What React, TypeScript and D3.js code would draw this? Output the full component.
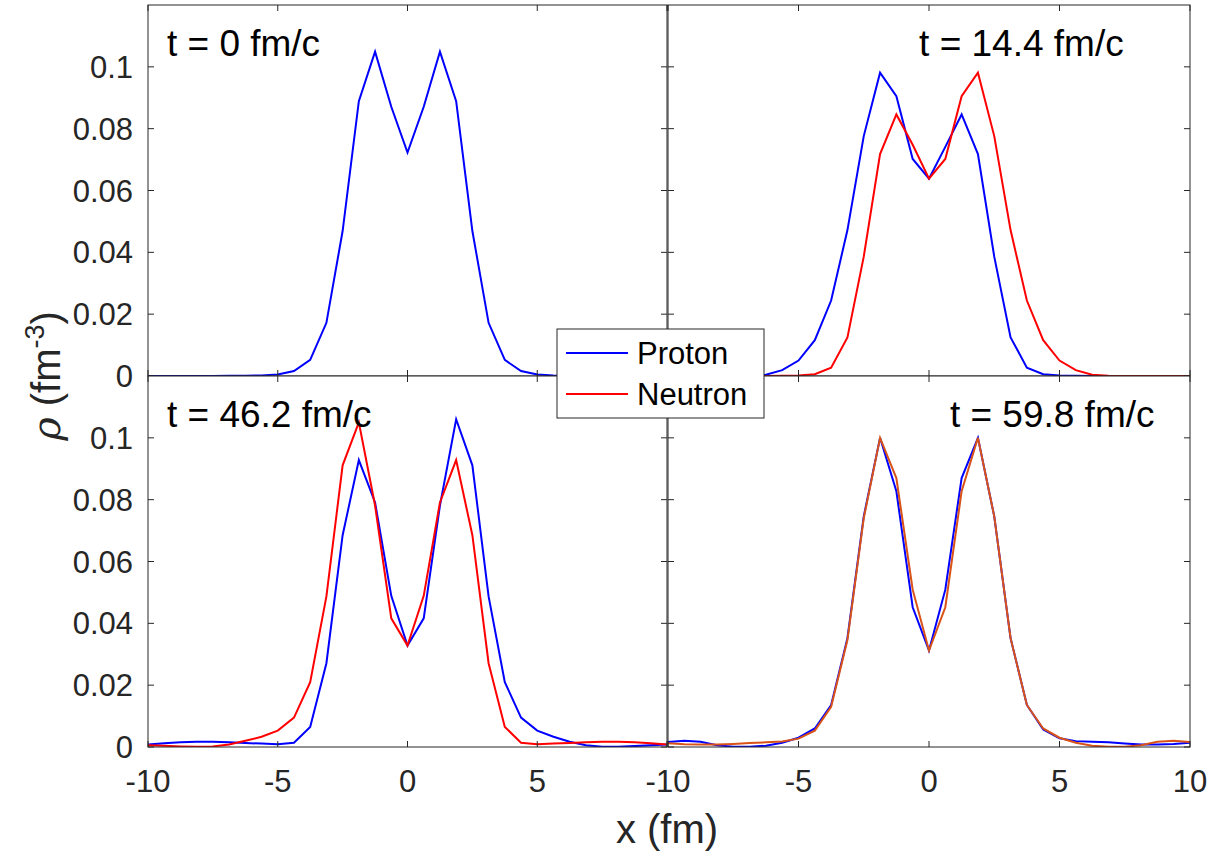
import React from "react";
import * as d3 from "d3";

// grid positions (fm)
const xs = [-10, -9.375, -8.75, -8.125, -7.5, -6.875, -6.25, -5.625, -5, -4.375, -3.75, -3.125, -2.5, -1.875, -1.25, -0.625, 0,
  0.625, 1.25, 1.875, 2.5, 3.125, 3.75, 4.375, 5, 5.625, 6.25, 6.875, 7.5, 8.125, 8.75, 9.375, 10];

// t = 0 fm/c
const p0 = [0, 0, 0, 0, 0, 0.0001, 0.0001, 0.0002, 0.0005, 0.0016, 0.0052, 0.0172, 0.0469, 0.0889, 0.1049, 0.0871, 0.0723,
  0.0871, 0.1049, 0.0889, 0.0469, 0.0172, 0.0052, 0.0016, 0.0005, 0.0002, 0.0001, 0.0001, 0, 0, 0, 0, 0];

// t = 14.4 fm/c
const p1 = [0, 0, 0, 0, 0, 0.0001, 0.0004, 0.0019, 0.005, 0.0116, 0.0244, 0.0472, 0.0776, 0.0981, 0.0905, 0.0702, 0.0638,
  0.0741, 0.0846, 0.0718, 0.0386, 0.0125, 0.0027, 0.0006, 0.0002, 0.0001, 0, 0, 0, 0, 0, 0, 0];
const n1 = [0, 0, 0, 0, 0, 0, 0, 0.0001, 0.0002, 0.0006, 0.0027, 0.0125, 0.0386, 0.0718, 0.0846, 0.0748, 0.0638,
  0.0702, 0.0905, 0.0981, 0.0776, 0.0472, 0.0244, 0.0116, 0.005, 0.0019, 0.0004, 0.0001, 0, 0, 0, 0, 0];

// t = 46.2 fm/c
const p2 = [0.0008, 0.0012, 0.0015, 0.0017, 0.0017, 0.0015, 0.0013, 0.0011, 0.0009, 0.0014, 0.0065, 0.0271, 0.0685, 0.0928, 0.0791, 0.0489, 0.0328,
  0.0416, 0.0781, 0.106, 0.0911, 0.0487, 0.021, 0.0095, 0.0053, 0.0033, 0.0017, 0.0006, 0.0001, 0.0001, 0.0003, 0.0006, 0.0008];
const n2 = [0.0006, 0.0004, 0.0002, 0.0001, 0.0002, 0.0008, 0.002, 0.0033, 0.0053, 0.0095, 0.021, 0.0487, 0.0911, 0.105, 0.0781, 0.0416, 0.0328,
  0.0489, 0.0791, 0.0928, 0.0685, 0.0271, 0.0065, 0.0014, 0.0009, 0.0011, 0.0013, 0.0015, 0.0017, 0.0017, 0.0015, 0.0012, 0.0008];

// t = 59.8 fm/c
const p3 = [0.0016, 0.002, 0.0017, 0.0006, 0.0001, 0.0001, 0.0004, 0.0014, 0.003, 0.006, 0.0136, 0.0352, 0.0746, 0.1, 0.0827, 0.0452, 0.0312,
  0.0509, 0.087, 0.1, 0.0746, 0.0352, 0.0136, 0.0057, 0.0028, 0.0019, 0.0017, 0.0015, 0.0011, 0.0008, 0.0008, 0.001, 0.0014];
const n3 = [0.0012, 0.0009, 0.0008, 0.0008, 0.001, 0.0013, 0.0015, 0.0018, 0.0027, 0.0053, 0.013, 0.0346, 0.074, 0.1, 0.087, 0.0509, 0.0312,
  0.0452, 0.0827, 0.1, 0.0746, 0.0352, 0.0136, 0.006, 0.003, 0.0014, 0.0004, 0.0001, 0.0001, 0.0006, 0.0017, 0.002, 0.0016];

const xTicks = [-10, -5, 0, 5, 10];
const yTicks = [0, 0.02, 0.04, 0.06, 0.08, 0.1];
const yTickLabels = ["0", "0.02", "0.04", "0.06", "0.08", "0.1"];
const titles = ["t = 0 fm/c", "t = 14.4 fm/c", "t = 46.2 fm/c", "t = 59.8 fm/c"];
const legendLabels = ["Proton", "Neutron"];

const BLUE = "#0000ff";
const RED = "#ff0000";
const ORANGE = "#d95319";
const AX = "#262626";
const FONT = "'Liberation Sans', Arial, Helvetica, sans-serif";

type Series = { values: number[]; color: string };
type Panel = {
  x0: number; x1: number; y0: number; y1: number;
  series: Series[]; title: string; titleX: number;
  showXLabels: boolean; showYLabels: boolean; xLabelTicks: number[]; yLabelTicks: number[];
};

const LEFT = [148, 667];
const RIGHT = [668, 1190];
const TOP = [5, 376];
const BOT = [376, 747];

const panels: Panel[] = [
  { x0: LEFT[0], x1: LEFT[1], y0: TOP[0], y1: TOP[1], series: [{ values: p0, color: BLUE }], title: titles[0], titleX: -9.27,
    showXLabels: false, showYLabels: true, xLabelTicks: [], yLabelTicks: [0, 0.02, 0.04, 0.06, 0.08, 0.1] },
  { x0: RIGHT[0], x1: RIGHT[1], y0: TOP[0], y1: TOP[1], series: [{ values: p1, color: BLUE }, { values: n1, color: RED }], title: titles[1], titleX: -0.38,
    showXLabels: false, showYLabels: false, xLabelTicks: [], yLabelTicks: [] },
  { x0: LEFT[0], x1: LEFT[1], y0: BOT[0], y1: BOT[1], series: [{ values: p2, color: BLUE }, { values: n2, color: RED }], title: titles[2], titleX: -9.27,
    showXLabels: true, showYLabels: true, xLabelTicks: [-10, -5, 0, 5], yLabelTicks: [0, 0.02, 0.04, 0.06, 0.08, 0.1] },
  { x0: RIGHT[0], x1: RIGHT[1], y0: BOT[0], y1: BOT[1], series: [{ values: p3, color: BLUE }, { values: n3, color: ORANGE }], title: titles[3], titleX: 0.8,
    showXLabels: true, showYLabels: false, xLabelTicks: [-10, -5, 0, 5, 10], yLabelTicks: [] },
];

function PanelView({ p, idx }: { p: Panel; idx: number }) {
  const x = d3.scaleLinear().domain([-10, 10]).range([p.x0, p.x1]);
  const y = d3.scaleLinear().domain([0, 0.12]).range([p.y1, p.y0]);
  const line = d3.line<number>().x((_, i) => x(xs[i])).y((d) => y(d));
  const clipId = `clip${idx}`;
  const TL = 6;
  return (
    <g>
      <defs>
        <clipPath id={clipId}>
          <rect x={p.x0} y={p.y0} width={p.x1 - p.x0} height={p.y1 - p.y0} />
        </clipPath>
      </defs>
      <rect x={p.x0} y={p.y0} width={p.x1 - p.x0} height={p.y1 - p.y0} fill="#fff" />
      <g clipPath={`url(#${clipId})`}>
        {p.series.map((s, i) => (
          <path key={i} d={line(s.values) || ""} fill="none" stroke={s.color} strokeWidth={2} strokeLinejoin="miter" />
        ))}
      </g>
      <rect x={p.x0} y={p.y0} width={p.x1 - p.x0} height={p.y1 - p.y0} fill="none" stroke={AX} strokeWidth={1} />
      {xTicks.map((t) => (
        <g key={"xt" + t}>
          <line x1={x(t)} x2={x(t)} y1={p.y1} y2={p.y1 - TL} stroke={AX} strokeWidth={1} />
          <line x1={x(t)} x2={x(t)} y1={p.y0} y2={p.y0 + TL} stroke={AX} strokeWidth={1} />
        </g>
      ))}
      {yTicks.map((t) => (
        <g key={"yt" + t}>
          <line x1={p.x0} x2={p.x0 + TL} y1={y(t)} y2={y(t)} stroke={AX} strokeWidth={1} />
          <line x1={p.x1} x2={p.x1 - TL} y1={y(t)} y2={y(t)} stroke={AX} strokeWidth={1} />
        </g>
      ))}
      {p.showYLabels && p.yLabelTicks.map((t) => (
        <text key={"yl" + t} x={p.x0 - 15} y={y(t)} dy="0.36em" textAnchor="end" fontSize={31} fill={AX} fontFamily={FONT}>
          {yTickLabels[yTicks.indexOf(t)]}
        </text>
      ))}
      {p.showXLabels && p.xLabelTicks.map((t) => (
        <text key={"xl" + t} x={x(t)} y={p.y1 + 45} textAnchor="middle" fontSize={31} fill={AX} fontFamily={FONT}>
          {String(t)}
        </text>
      ))}
      <text x={x(p.titleX)} y={y(0.1035)} fontSize={37} fill="#000" fontFamily={FONT}>{p.title}</text>
    </g>
  );
}

export default function App() {
  const leg = { x: 557, y: 329, w: 207, h: 89 };
  const legColors = [BLUE, RED];
  return (
    <svg width={1222} height={854} style={{ position: "absolute", left: 0, top: 0, background: "#fff" }}>
      <rect x={0} y={0} width={1222} height={854} fill="#fff" />
      {panels.map((p, i) => <PanelView key={i} p={p} idx={i} />)}
      <g>
        <rect x={leg.x} y={leg.y} width={leg.w} height={leg.h} fill="#fff" stroke={AX} strokeWidth={1} />
        {legendLabels.map((l, i) => (
          <g key={l}>
            <line x1={leg.x + 9} x2={leg.x + 71} y1={leg.y + 24 + i * 41} y2={leg.y + 24 + i * 41} stroke={legColors[i]} strokeWidth={2} />
            <text x={leg.x + 80} y={leg.y + 24 + i * 41} dy="0.36em" fontSize={31} fill="#000" fontFamily={FONT}>{l}</text>
          </g>
        ))}
      </g>
      <text x={667} y={843} textAnchor="middle" fontSize={40} fill={AX} fontFamily={FONT}>x (fm)</text>
      <text transform="translate(60,376) rotate(-90)" textAnchor="middle" fontSize={40} fill={AX} fontFamily={FONT}>
        <tspan fontStyle="italic" fontFamily="'DejaVu Serif', serif">ρ</tspan>
        <tspan> (fm</tspan>
        <tspan fontSize={27} dy={-16}>-3</tspan>
        <tspan dy={16}>)</tspan>
      </text>
    </svg>
  );
}
